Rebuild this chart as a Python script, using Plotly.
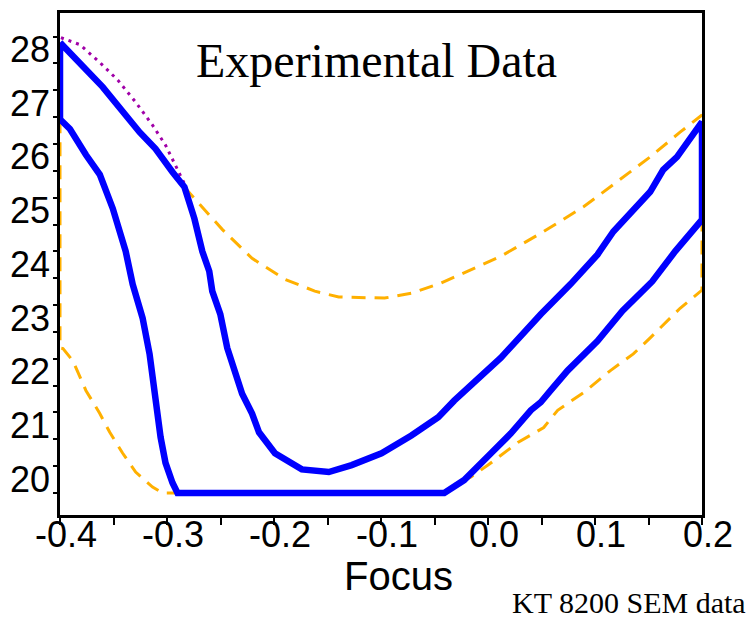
import plotly.graph_objects as go

# Blue measured region (closed loop)
blue_x = [-0.4, -0.3767, -0.36, -0.3256, -0.3107, -0.2949, -0.2837, -0.2744, -0.2670, -0.2605,
          -0.2577, -0.2502, -0.2437, -0.2298, -0.2205, -0.2140, -0.1991, -0.1740, -0.1488, -0.1274,
          -0.0995, -0.0716, -0.0465, -0.0316, 0.0121, 0.0493, 0.0772, 0.1023, 0.1172, 0.1516,
          0.1637, 0.1767, 0.2, 0.2, 0.1749, 0.1535, 0.1256, 0.1023, 0.0744, 0.0586,
          0.0493, 0.0400, 0.0214, 0.0028, -0.0223, -0.0409, -0.2902, -0.2949, -0.3014, -0.3060,
          -0.3107, -0.3163, -0.3228, -0.3321, -0.3386, -0.3507, -0.3628, -0.3758, -0.3907, -0.4, -0.4]
blue_y = [28.39, 27.93, 27.56, 26.72, 26.41, 25.98, 25.70, 25.11, 24.50, 24.13,
          23.76, 23.33, 22.70, 21.85, 21.48, 21.13, 20.74, 20.44, 20.39, 20.52,
          20.74, 21.07, 21.41, 21.72, 22.52, 23.33, 23.89, 24.44, 24.87, 25.61,
          26.02, 26.26, 26.91, 25.09, 24.50, 23.94, 23.39, 22.83, 22.28, 21.91,
          21.69, 21.54, 21.11, 20.74, 20.24, 20.0, 20.0, 20.19, 20.56, 21.04,
          21.72, 22.59, 23.26, 23.89, 24.50, 25.30, 25.93, 26.30, 26.78, 26.96, 28.39]

# Orange dashed envelope: left-lower part
orange_left_x = [-0.4, -0.4, -0.3972, -0.3879, -0.3758, -0.3628, -0.3535, -0.3414, -0.3293, -0.3135, -0.3042, -0.2902]
orange_left_y = [26.96, 22.70, 22.69, 22.46, 21.91, 21.48, 21.13, 20.74, 20.39, 20.11, 20.0, 20.0]

# Orange dashed envelope: upper curve, right edge and lower-right
orange_right_x = [-0.2837, -0.2781, -0.2484, -0.2205, -0.1898, -0.1619, -0.1395, -0.1116, -0.0967, -0.0716,
                  -0.0437, 0.0121, 0.0521, 0.0893, 0.1209, 0.1516, 0.1795, 0.2, 0.2, 0.1795,
                  0.1516, 0.1358, 0.1144, 0.0893, 0.0651, 0.0521, 0.0279, 0.0, -0.0158, -0.0223]
orange_right_y = [25.70, 25.57, 24.91, 24.37, 23.98, 23.76, 23.65, 23.63, 23.63, 23.72,
                  23.91, 24.41, 24.87, 25.33, 25.80, 26.26, 26.72, 27.04, 23.78, 23.44,
                  22.89, 22.59, 22.28, 21.87, 21.54, 21.22, 20.94, 20.52, 20.30, 20.24]

# Purple dotted
purple_x = [-0.3991, -0.3814, -0.3628, -0.3460, -0.3293, -0.3135, -0.3014, -0.2884, -0.2837]
purple_y = [28.48, 28.35, 28.02, 27.69, 27.28, 26.85, 26.48, 25.94, 25.76]

x_tickvals = [-0.4, -0.3, -0.2, -0.1, 0.0, 0.1, 0.2]
x_ticktext = ["-0.4", "-0.3", "-0.2", "-0.1", "0.0", "0.1", "0.2"]
y_tickvals = [20, 21, 22, 23, 24, 25, 26, 27, 28]
y_ticktext = ["20", "21", "22", "23", "24", "25", "26", "27", "28"]

ORANGE = "#FFB000"
BLUE = "#0000FF"
PURPLE = "#A000A8"

fig = go.Figure()
fig.add_trace(go.Scatter(x=orange_left_x, y=orange_left_y, mode="lines",
                         line=dict(color=ORANGE, width=3, dash="14px,9px"), showlegend=False))
fig.add_trace(go.Scatter(x=orange_right_x, y=orange_right_y, mode="lines",
                         line=dict(color=ORANGE, width=3, dash="14px,9px"), showlegend=False))
fig.add_trace(go.Scatter(x=purple_x, y=purple_y, mode="lines",
                         line=dict(color=PURPLE, width=3, dash="3px,5px"), showlegend=False))
fig.add_trace(go.Scatter(x=blue_x, y=blue_y, mode="lines",
                         line=dict(color=BLUE, width=6.5), showlegend=False))

axis_font = dict(family="Liberation Sans, Arial, sans-serif", size=36, color="black")

fig.update_layout(
    width=748, height=618,
    margin=dict(l=57, r=46, t=10, b=103),
    paper_bgcolor="white", plot_bgcolor="white",
    xaxis=dict(range=[-0.4, 0.2], tickvals=x_tickvals, ticktext=x_ticktext,
               showgrid=False, zeroline=False, showline=True, linecolor="black", linewidth=2.5,
               mirror=True, ticks="outside", ticklen=7, tickwidth=2, tickcolor="black",
               ticklabelstandoff=-21, ticklabelshift=6,
               minor=dict(dtick=0.05, tick0=-0.4, ticks="outside", ticklen=7, tickwidth=2, tickcolor="black"),
               tickfont=axis_font),
    yaxis=dict(range=[19.59, 28.94], tickvals=y_tickvals, ticktext=y_ticktext,
               showgrid=False, zeroline=False, showline=True, linecolor="black", linewidth=2.5,
               mirror=True, ticks="outside", ticklen=4, tickwidth=2, tickcolor="black",
               ticklabelstandoff=-4, ticklabelshift=-14,
               minor=dict(dtick=0.5, tick0=20, ticks="outside", ticklen=4, tickwidth=2, tickcolor="black"),
               tickfont=axis_font),
    annotations=[
        dict(text="Experimental Data", xref="paper", yref="paper", x=0.493, y=0.905,
             xanchor="center", yanchor="middle", showarrow=False,
             font=dict(family="Liberation Serif, Times New Roman, serif", size=48, color="black")),
        dict(text="Focus", xref="paper", yref="paper", x=0.527, y=-0.122,
             xanchor="center", yanchor="middle", showarrow=False,
             font=dict(family="Liberation Sans, Arial, sans-serif", size=40, color="black")),
        dict(text="KT 8200 SEM data", xref="paper", yref="paper", x=1.071, y=-0.174,
             xanchor="right", yanchor="middle", showarrow=False,
             font=dict(family="Liberation Serif, Times New Roman, serif", size=30, color="black")),
    ],
)

fig.write_html("out.html")
